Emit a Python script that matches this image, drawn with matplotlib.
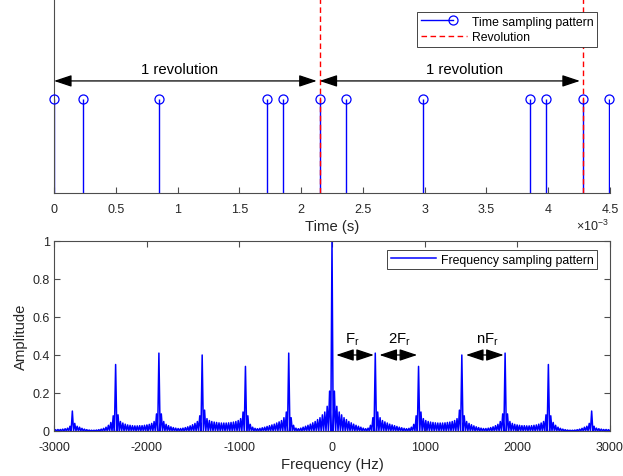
import numpy as np
import matplotlib.pyplot as plt
from matplotlib.legend_handler import HandlerLine2D
from matplotlib.lines import Line2D

plt.rcParams['font.family'] = ['Liberation Sans', 'DejaVu Sans']
plt.rcParams['axes.unicode_minus'] = False
plt.rcParams['mathtext.default'] = 'regular'

# ---------------- data ----------------
# time sampling pattern (ms), stems of height 1
sample_times_ms = [0.0, 0.235, 0.853, 1.725, 1.853, 2.149,
                   2.365, 2.985, 3.851, 3.983, 4.279, 4.488]
sample_height = [1] * len(sample_times_ms)
revolution_ms = [2.149, 4.279]
rev_text_x = [1.02, 3.32]

# frequency sampling pattern: amplitude of every side lobe, 0 Hz upwards
fr_hz = 467
lobes_per_rev = 18
spec_amp_pos = [
    1.00, 0.21, 0.13, 0.10, 0.085, 0.07, 0.06, 0.05, 0.043, 0.036,
    0.03, 0.025, 0.02, 0.015, 0.012, 0.015, 0.03, 0.07,
    0.41, 0.10, 0.07, 0.055, 0.048, 0.042, 0.036, 0.032, 0.028, 0.024,
    0.02, 0.017, 0.014, 0.012, 0.014, 0.02, 0.035, 0.08,
    0.34, 0.10, 0.065, 0.055, 0.05, 0.047, 0.045, 0.043, 0.042, 0.042,
    0.042, 0.043, 0.045, 0.047, 0.05, 0.055, 0.065, 0.11,
    0.40, 0.08, 0.05, 0.04, 0.033, 0.027, 0.022, 0.018, 0.015, 0.013,
    0.013, 0.015, 0.018, 0.022, 0.028, 0.035, 0.05, 0.09,
    0.41, 0.09, 0.05, 0.04, 0.035, 0.032, 0.03, 0.028, 0.028, 0.027,
    0.027, 0.028, 0.03, 0.032, 0.036, 0.042, 0.05, 0.085,
    0.35, 0.08, 0.045, 0.03, 0.02, 0.014, 0.01, 0.007, 0.005, 0.004,
    0.004, 0.005, 0.007, 0.01, 0.014, 0.02, 0.025, 0.04,
    0.105, 0.025, 0.015, 0.012, 0.01, 0.008, 0.008, 0.007, 0.007,
]

# arrows in the spectrum: (start harmonic, end harmonic, label, label x in Hz)
fr_arrows = [(0, 1, 'F$_r$', 214), (1, 2, '2F$_r$', 729), (3, 4, 'nF$_r$', 1673)]

blue = (0, 0, 1)
red = (1, 0, 0)
spine_c = '0.3'
text_c = '0.15'
arrow_style = '<|-|>,head_length=0.9,head_width=0.3'


class StemHandler(HandlerLine2D):
    # matlab style stem legend: line with the circle near the right end
    def create_artists(self, legend, orig_handle, xdescent, ydescent,
                       width, height, fontsize, trans):
        arts = super().create_artists(legend, orig_handle, xdescent, ydescent,
                                      width, height, fontsize, trans)
        x0 = -xdescent
        xm = -xdescent + 0.7 * width
        y = (height - ydescent) / 2
        line = arts[0]
        line.set_data([x0, xm, xm], [y, y, y])
        line.set_markevery([2])
        return [line]


def style_axes(ax, xpad=7, ypad=3):
    for s in ax.spines.values():
        s.set_color(spine_c)
        s.set_linewidth(0.8)
    ax.tick_params(direction='in', colors=spine_c, labelcolor=text_c,
                   labelsize=9, length=4.5, width=0.8)
    ax.tick_params(axis='x', pad=xpad)
    ax.tick_params(axis='y', pad=ypad)


fig = plt.figure(figsize=(6.23, 4.77), dpi=100)
W, H = 623, 477
ax1 = fig.add_axes([54 / W, 1 - 194 / H, 556 / W, 194 / H])
ax2 = fig.add_axes([54 / W, 1 - 432 / H, 556 / W, 190 / H])

# ---------------- top: time sampling pattern ----------------
ml, sl, bl = ax1.stem(sample_times_ms, sample_height, basefmt=' ')
plt.setp(sl, color=blue, linewidth=1.0)
plt.setp(ml, color=blue, marker='o', markersize=6.5, markerfacecolor='none',
         markeredgewidth=0.9, clip_on=False, zorder=5)
for i, t in enumerate(revolution_ms):
    ax1.axvline(t, color=red, linestyle=(0, (4, 2.5)), linewidth=1.0, zorder=4)

ax1.set_xlim(0, 4.5)
ax1.set_ylim(0, 2.06)
ax1.set_xticks(np.arange(0, 4.51, 0.5))
ax1.set_xticklabels(['0', '0.5', '1', '1.5', '2', '2.5', '3', '3.5', '4', '4.5'])
ax1.set_yticks([])
ax1.spines['top'].set_visible(False)
ax1.spines['right'].set_visible(False)
style_axes(ax1)
ax1.set_xlabel('Time (s)', fontsize=10.7, color=text_c, labelpad=3)
ax1.annotate(r'$\times$10$^{-3}$', xy=(1.0, 0), xycoords='axes fraction',
             xytext=(-1, -23), textcoords='offset points', ha='right',
             va='center', fontsize=9, color=text_c)

rev_edges = [0] + revolution_ms
for a, b, tx in zip(rev_edges[:-1], rev_edges[1:], rev_text_x):
    ax1.annotate('', xy=(b, 1.19), xytext=(a, 1.19),
                 arrowprops=dict(arrowstyle=arrow_style, color='black', lw=0.9,
                                 mutation_scale=12, shrinkA=0, shrinkB=2))
    ax1.text(tx, 1.24, '1 revolution', ha='center', va='bottom',
             fontsize=10.7, color='black')

stem_proxy = Line2D([], [], color=blue, linewidth=1.0, marker='o', markersize=6.5,
                    markerfacecolor='none', markeredgewidth=0.9)
rev_proxy = Line2D([], [], color=red, linestyle=(0, (4, 2.5)), linewidth=1.0)
leg1 = ax1.legend(handles=[stem_proxy, rev_proxy],
                  labels=['Time sampling pattern', 'Revolution'],
                  handler_map={stem_proxy: StemHandler(numpoints=1)},
                  loc='upper right', bbox_to_anchor=((597 - 54) / 556, 1 - 13 / 194),
                  borderaxespad=0, fontsize=8.8, fancybox=False, framealpha=1,
                  edgecolor='0.15', handlelength=3.8, handletextpad=0.35,
                  borderpad=0.3, labelspacing=0.3)
leg1.get_frame().set_linewidth(0.6)

# ---------------- bottom: frequency sampling pattern ----------------
amp_pos = np.array(spec_amp_pos)
f_pos = np.arange(len(amp_pos)) * fr_hz / lobes_per_rev
f_lobe = np.concatenate([-f_pos[:0:-1], f_pos])
a_lobe = np.concatenate([amp_pos[:0:-1], amp_pos])
# draw each lobe as a spike that comes back down to zero between lobes
half = fr_hz / lobes_per_rev / 2
f_line = np.empty(2 * len(f_lobe) + 1)
a_line = np.zeros(2 * len(f_lobe) + 1)
f_line[0] = f_lobe[0] - half
f_line[1::2] = f_lobe
f_line[2::2] = f_lobe + half
a_line[1::2] = a_lobe
ax2.plot(f_line, a_line, color=blue, linewidth=1.1,
         label='Frequency sampling pattern')

for n0, n1, lab, lx in fr_arrows:
    ax2.annotate('', xy=(n1 * fr_hz, 0.4), xytext=(n0 * fr_hz, 0.4),
                 arrowprops=dict(arrowstyle=arrow_style, color='black', lw=0.9,
                                 mutation_scale=12, shrinkA=3, shrinkB=1))
    ax2.text(lx, 0.465, lab, ha='center', va='baseline',
             fontsize=10.7, color='black')

ax2.set_xlim(-3000, 3000)
ax2.set_ylim(0, 1)
ax2.set_xticks(np.arange(-3000, 3001, 1000))
ax2.set_yticks(np.arange(0, 1.01, 0.2))
ax2.set_yticklabels(['0', '0.2', '0.4', '0.6', '0.8', '1'])
ax2.tick_params(top=True, right=True)
style_axes(ax2)
ax2.set_xlabel('Frequency (Hz)', fontsize=10.7, color=text_c, labelpad=3)
ax2.set_ylabel('Amplitude', fontsize=10.7, color=text_c, labelpad=3)
leg2 = ax2.legend(loc='upper right', bbox_to_anchor=((597 - 54) / 556, 1 - 9 / 190),
                  borderaxespad=0, fontsize=8.8, fancybox=False, framealpha=1,
                  edgecolor='0.15', handlelength=3.7, handletextpad=0.35,
                  borderpad=0.3)
leg2.get_frame().set_linewidth(0.6)

fig.savefig('out.png', dpi=100)
